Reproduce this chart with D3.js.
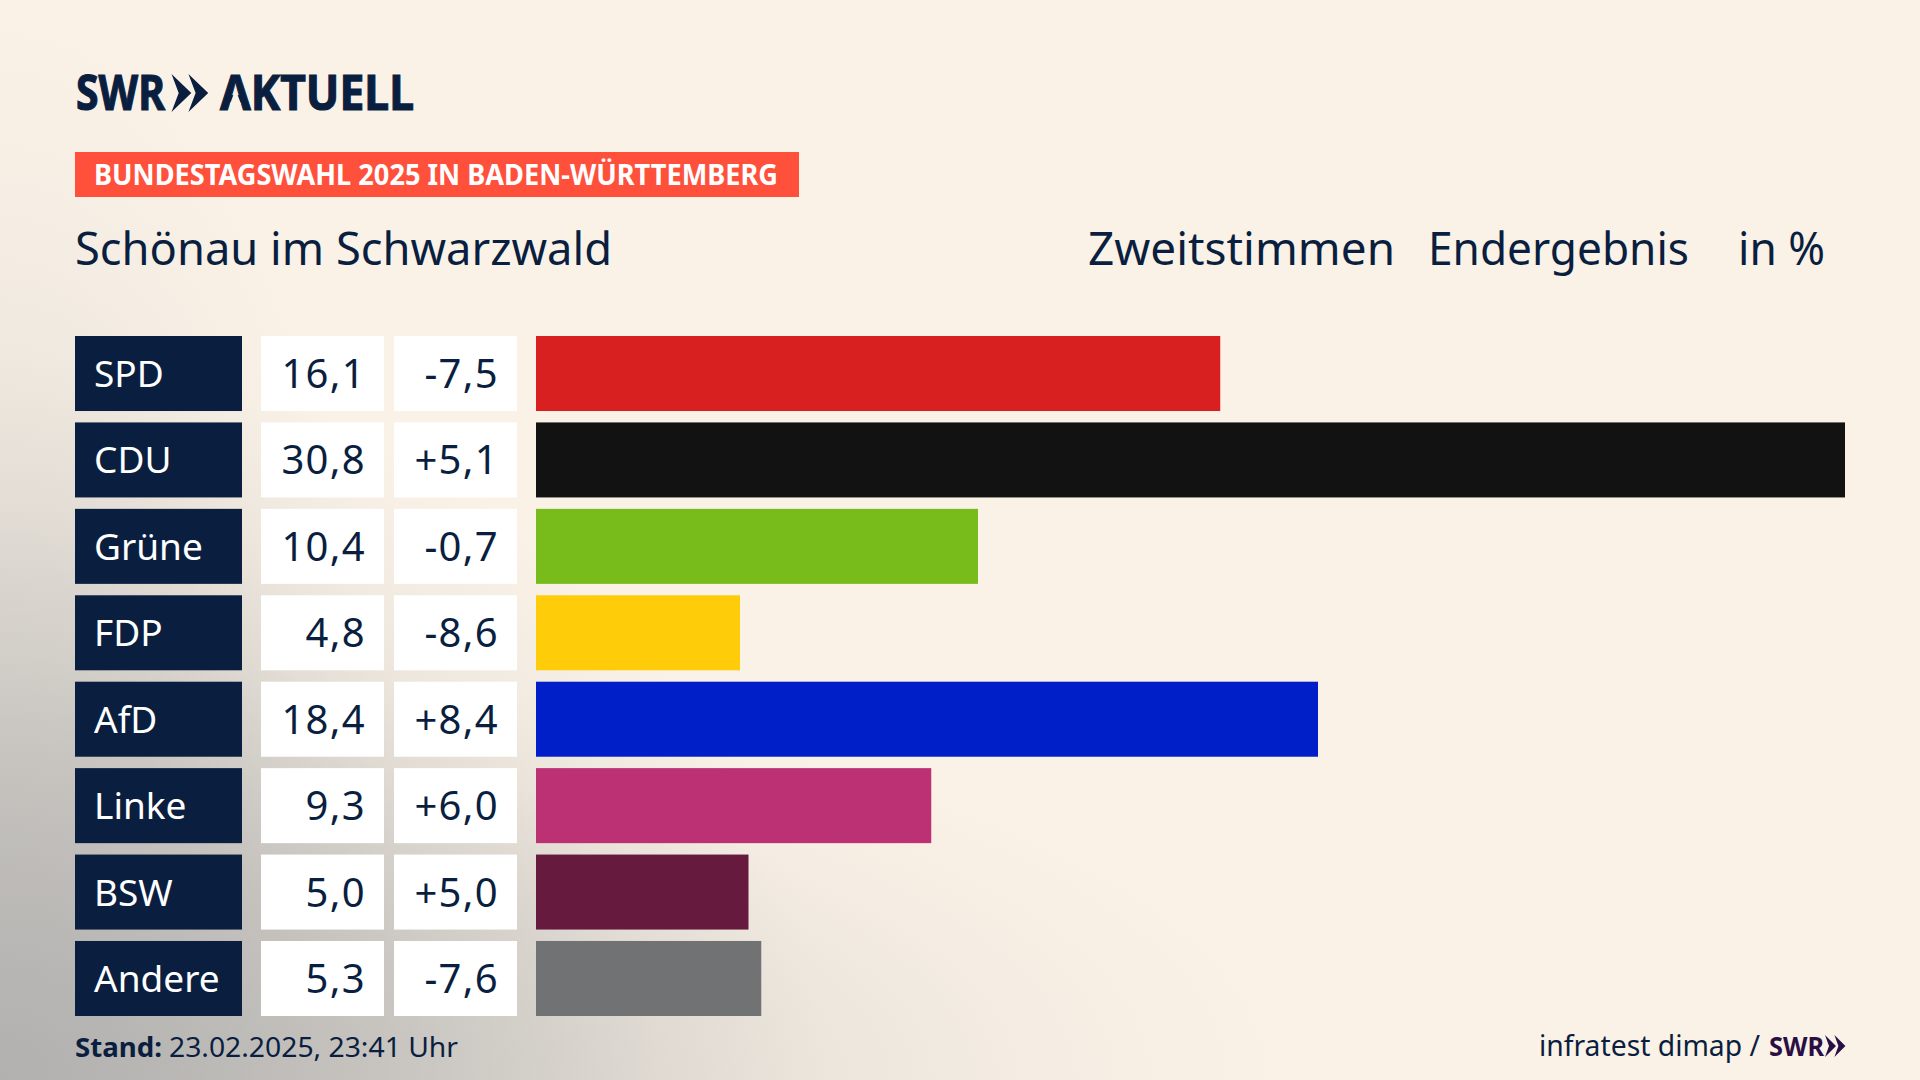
<!DOCTYPE html>
<html lang="de">
<head>
<meta charset="utf-8">
<title>Bundestagswahl 2025 – Schönau im Schwarzwald</title>
<script src="https://cdn.jsdelivr.net/npm/d3@7"></script>
<style>
html,body{margin:0;padding:0;background:#faf2e7;overflow:hidden}
svg{display:block}
text{font-family:"Noto Sans",sans-serif}
</style>
</head>
<body>
<svg id="chart" width="1920" height="1080" viewBox="0 0 1920 1080"></svg>
<script>
const parties = ["SPD","CDU","Grüne","FDP","AfD","Linke","BSW","Andere"];
const shares = [16.1,30.8,10.4,4.8,18.4,9.3,5.0,5.3];
const changes = [-7.5,5.1,-0.7,-8.6,8.4,6.0,5.0,-7.6];
const partyColors = ["#d7201f","#121212","#78bc1b","#ffcc0a","#001fc8","#bc3074","#661a3e","#717274"];

const headerBadge = "BUNDESTAGSWAHL 2025 IN BADEN-WÜRTTEMBERG";
const placeName = "Schönau im Schwarzwald";
const headerLabels = ["Zweitstimmen","Endergebnis","in %"];
const standLabel = "Stand:";
const standValue = "23.02.2025, 23:41 Uhr";
const sourceLabel = "infratest dimap /";

const navy = "#0a1f3f";
const svg = d3.select("#chart");
const defs = svg.append("defs");

/* background: cream base with soft grey glows from the lower left corner */
svg.append("rect").attr("width",1920).attr("height",1080).attr("fill","#faf2e7");
const glows = [
  {id:"glowLeft",  rx:420,  ry:1080, color:"#cfcbc6", op:0.75},
  {id:"glowBottom",rx:1300, ry:420,  color:"#cbc7c2", op:0.8},
  {id:"glowCorner",rx:820,  ry:720,  color:"#a6a6a6", op:0.7}
];
glows.forEach(g=>{
  const grad = defs.append("radialGradient").attr("id",g.id)
    .attr("gradientUnits","userSpaceOnUse").attr("cx",0).attr("cy",0).attr("r",1)
    .attr("gradientTransform",`translate(0 1080) scale(${g.rx} ${g.ry})`);
  [[0,1],[0.5,0.55],[0.8,0.15],[1,0]].forEach(s=>grad.append("stop").attr("offset",s[0])
    .attr("stop-color",g.color).attr("stop-opacity",s[1]*g.op));
  svg.append("rect").attr("width",1920).attr("height",1080).attr("fill",`url(#${g.id})`);
});

/* scales */
const y = d3.scaleBand().domain(parties).range([336,1016]).paddingInner(0.132).paddingOuter(0);
const x = d3.scaleLinear().domain([0,30.8]).range([536,1845]);
const locale = d3.formatLocale({decimal:",",thousands:".",grouping:[3],currency:["","€"],minus:"-"});
const fmtShare = locale.format(".1f");
const fmtChange = locale.format("+.1f");

/* helper for fitted text */
function fitted(sel,len){return sel.attr("textLength",len).attr("lengthAdjust","spacingAndGlyphs");}

/* logo */
const chevrons = (g,h,w)=>{
  [0,0.47].forEach(o=>{
    g.append("path").attr("d",`M${o*w} 0 L${o*w+w*0.55} ${h/2} L${o*w} ${h} L${o*w+w*0.2} ${h/2} Z`);
  });
};
fitted(svg.append("text").attr("x",76).attr("y",110).attr("font-size",49).attr("font-weight",700)
  .attr("fill",navy).attr("stroke",navy).attr("stroke-width",1.2).text("SWR"),89);
chevrons(svg.append("g").attr("transform","translate(171.5,74)").attr("fill",navy),38,36);
fitted(svg.append("text").attr("x",220).attr("y",110).attr("font-size",49).attr("font-weight",700)
  .attr("fill",navy).attr("stroke",navy).attr("stroke-width",1.2).text("AKTUELL"),194);
/* the logotype's A has no crossbar */
svg.append("path").attr("d","M234.5 92 L236.5 92 L241 104 L230 104 Z").attr("fill","#faf2e7");

/* badge */
svg.append("rect").attr("x",75).attr("y",152).attr("width",724).attr("height",45).attr("fill","#ff503c");
fitted(svg.append("text").attr("x",94).attr("y",185).attr("font-size",28).attr("font-weight",700).attr("fill","#fff").text(headerBadge),684);

/* headings */
fitted(svg.append("text").attr("x",75).attr("y",265).attr("font-size",46).attr("fill",navy).text(placeName),537);
const headX=[1088,1428,1738], headW=[307,261,87];
svg.selectAll("text.head").data(headerLabels).join("text").attr("class","head")
  .attr("x",(d,i)=>headX[i]).attr("y",265).attr("font-size",46).attr("fill",navy)
  .attr("textLength",(d,i)=>headW[i]).attr("lengthAdjust","spacingAndGlyphs").text(d=>d);

/* rows */
const rows = svg.selectAll("g.row").data(parties).join("g").attr("class","row");
rows.append("rect").attr("x",75).attr("width",167).attr("y",d=>y(d)).attr("height",y.bandwidth()).attr("fill",navy);
rows.append("text").attr("x",94).attr("y",d=>y(d)+51).attr("font-size",37).attr("fill","#fff").text(d=>d);
rows.append("rect").attr("x",261).attr("width",123).attr("y",d=>y(d)).attr("height",y.bandwidth()).attr("fill","#fff");
rows.append("text").attr("x",366).attr("y",d=>y(d)+52).attr("text-anchor","end").attr("font-size",40)
  .attr("letter-spacing",1.3).attr("fill",navy).text((d,i)=>fmtShare(shares[i]));
rows.append("rect").attr("x",394).attr("width",123).attr("y",d=>y(d)).attr("height",y.bandwidth()).attr("fill","#fff");
rows.append("text").attr("x",499).attr("y",d=>y(d)+52).attr("text-anchor","end").attr("font-size",40)
  .attr("letter-spacing",1.3).attr("fill",navy).text((d,i)=>fmtChange(changes[i]));
rows.append("rect").attr("x",x(0)).attr("y",d=>y(d)).attr("height",y.bandwidth())
  .attr("width",(d,i)=>x(shares[i])-x(0)).attr("fill",(d,i)=>partyColors[i]);

/* footer */
fitted(svg.append("text").attr("x",75).attr("y",1057).attr("font-size",27).attr("font-weight",700).attr("fill",navy).text(standLabel),87);
fitted(svg.append("text").attr("x",169).attr("y",1057).attr("font-size",27).attr("fill",navy).text(standValue),289);
fitted(svg.append("text").attr("x",1539).attr("y",1056).attr("font-size",29).attr("fill",navy).text(sourceLabel),221);
fitted(svg.append("text").attr("x",1769).attr("y",1056).attr("font-size",27).attr("font-weight",700).attr("fill","#2a0f45").text("SWR"),55);
chevrons(svg.append("g").attr("transform","translate(1825,1035)").attr("fill","#2a0f45"),22,20);
</script>
</body>
</html>
